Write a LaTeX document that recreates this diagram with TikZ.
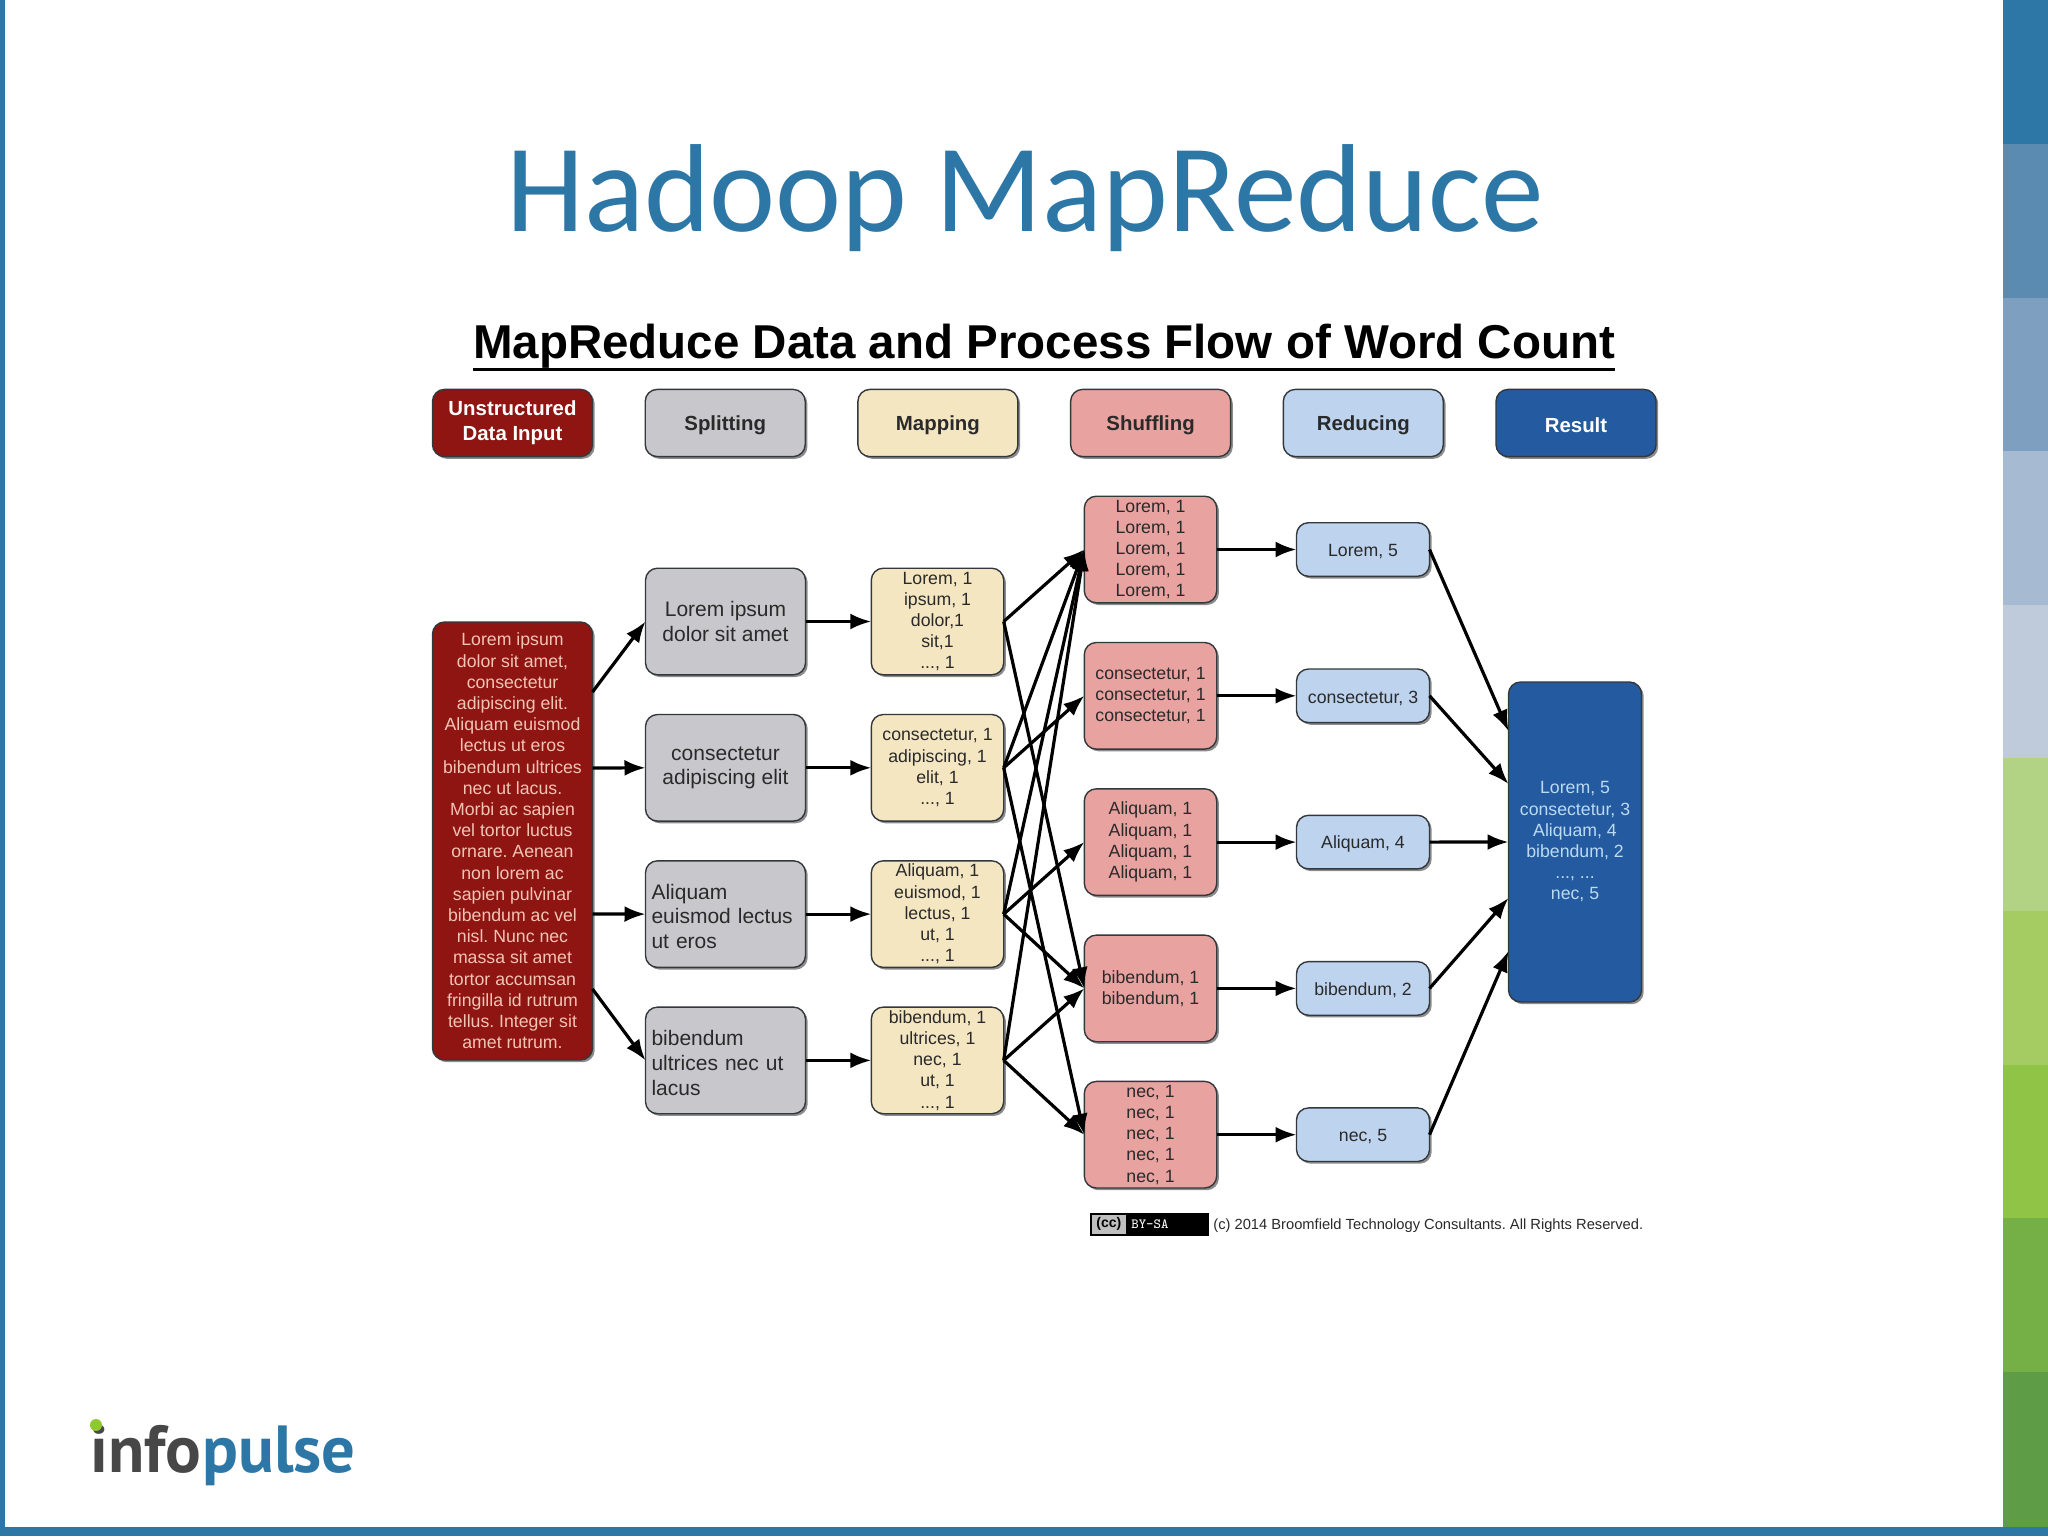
\documentclass[tikz,border=0pt]{standalone}
\usepackage{fontspec}
\setmainfont{Liberation Sans}
\newfontfamily\titlefont{Carlito}
\newfontfamily\logofont{PT Sans}
\usetikzlibrary{arrows.meta,shadows}

\definecolor{slide}{HTML}{2D77A6}
\definecolor{rust}{HTML}{8E1512}
\definecolor{rusttext}{HTML}{F2C4B4}
\definecolor{stone}{HTML}{C8C8CC}
\definecolor{cream}{HTML}{F5E6C2}
\definecolor{rose}{HTML}{E8A2A0}
\definecolor{sky}{HTML}{BDD3EE}
\definecolor{navy}{HTML}{235AA0}
\definecolor{navytext}{HTML}{BCDAF2}
\definecolor{edge}{HTML}{33383C}
\definecolor{inkdark}{HTML}{2A2A2A}
\definecolor{dotgreen}{HTML}{8FC92F}

\frenchspacing

\begin{document}
\begin{tikzpicture}[x=0.5pt, y=-0.5pt]
	\tikzstyle{Box} = [draw=edge, line width=0.7pt, rounded corners=6pt, inner xsep=0pt, inner ysep=-3pt, outer sep=0pt, align=center, text=inkdark, font=\fontsize{8.85}{10.6}\selectfont, execute at begin node={\rule{0pt}{0.95em}}, drop shadow={shadow xshift=1.1pt, shadow yshift=-1.1pt, fill=black, opacity=0.45}]
	\tikzstyle{Head} = [Box, minimum width=80pt, minimum height=33.6pt, node distance=106.35pt, font=\bfseries\fontsize{10.2}{12.6}\selectfont]
	\tikzstyle{Split} = [Box, fill=stone, minimum width=80pt, minimum height=53.3pt, node distance=73.15pt, font=\fontsize{10.5}{12.4}\selectfont]
	\tikzstyle{SplitLeft} = [Split, text width=74pt, align=left]
	\tikzstyle{Map} = [Box, fill=cream, minimum width=66.2pt, minimum height=53.3pt, node distance=73.15pt]
	\tikzstyle{Shuffle} = [Box, fill=rose, minimum width=66.2pt, minimum height=53.3pt, node distance=73.15pt]
	\tikzstyle{Reduce} = [Box, fill=sky, minimum width=66.5pt, minimum height=26.8pt, node distance=73.15pt]
	\tikzstyle{Flow} = [draw=black, line width=1.6pt, -{Latex[length=10.5pt, width=8pt]}]

	\useasboundingbox (0,0) rectangle (2048,1536);
	\fill[white] (0,0) rectangle (2048,1536);
	\fill[slide] (0,0) rectangle (5,1536);
	\fill[slide] (0,1527) rectangle (2048,1536);
	\fill[fill=slide] (2003,0) rectangle (2048,144);
	\fill[fill={rgb,255:red,91;green,139;blue,176}] (2003,144) rectangle (2048,298);
	\fill[fill={rgb,255:red,127;green,159;blue,192}] (2003,298) rectangle (2048,451);
	\fill[fill={rgb,255:red,166;green,187;blue,210}] (2003,451) rectangle (2048,605);
	\fill[fill={rgb,255:red,191;green,203;blue,218}] (2003,605) rectangle (2048,758);
	\fill[fill={rgb,255:red,178;green,211;blue,132}] (2003,758) rectangle (2048,911);
	\fill[fill={rgb,255:red,164;green,204;blue,98}] (2003,911) rectangle (2048,1065);
	\fill[fill={rgb,255:red,143;green,196;blue,70}] (2003,1065) rectangle (2048,1218);
	\fill[fill={rgb,255:red,116;green,176;blue,69}] (2003,1218) rectangle (2048,1372);
	\fill[fill={rgb,255:red,94;green,156;blue,70}] (2003,1372) rectangle (2048,1527);

	\node[name=title, text=slide, font=\titlefont\fontsize{62.6}{70}\selectfont] at (1025,198) {Hadoop MapReduce};
	\node[name=sub, inner sep=0pt, text=black, font=\bfseries\fontsize{23.75}{26}\selectfont] at (1044,346) {MapReduce Data and Process Flow of Word Count};
	\draw[line width=1.3pt] ([yshift=-0.5pt]sub.south west) -- ([yshift=-0.5pt]sub.south east);

	\node[name=hd0, Head, fill=rust, text=white] at (512.5,423) {Unstructured\\Data Input};
	\node[name=hd1, right of=hd0, Head, fill=stone]{Splitting};
	\node[name=hd2, right of=hd1, Head, fill=cream]{Mapping};
	\node[name=hd3, right of=hd2, Head, fill=rose]{Shuffling};
	\node[name=hd4, right of=hd3, Head, fill=sky]{Reducing};
	\node[name=hd5, right of=hd4, Head, fill=navy, text=white]{Result};

	\node[name=inp, Box, fill=rust, text=rusttext, minimum width=80pt, minimum height=219pt] at (512.5,841) {Lorem ipsum\\dolor sit amet,\\consectetur\\adipiscing elit.\\Aliquam euismod\\lectus ut eros\\bibendum ultrices\\nec ut lacus.\\Morbi ac sapien\\vel tortor luctus\\ornare. Aenean\\non lorem ac\\sapien pulvinar\\bibendum ac vel\\nisl. Nunc nec\\massa sit amet\\tortor accumsan\\fringilla id rutrum\\tellus. Integer sit\\amet rutrum.};

	\node[name=sp0, Split] at (725.5,621.5) {Lorem ipsum\\dolor sit amet};
	\node[name=sp1, below of=sp0, Split]{consectetur\\adipiscing elit};
	\node[name=sp2, below of=sp1, SplitLeft]{Aliquam\\euismod lectus\\ut eros};
	\node[name=sp3, below of=sp2, SplitLeft]{bibendum\\ultrices nec ut\\lacus};

	\node[name=mp0, Map] at (937.5,621.5) {Lorem, 1\\ipsum, 1\\dolor,1\\sit,1\\..., 1};
	\node[name=mp1, below of=mp0, Map]{consectetur, 1\\adipiscing, 1\\elit, 1\\..., 1};
	\node[name=mp2, below of=mp1, Map]{Aliquam, 1\\euismod, 1\\lectus, 1\\ut, 1\\..., 1};
	\node[name=mp3, below of=mp2, Map]{bibendum, 1\\ultrices, 1\\nec, 1\\ut, 1\\..., 1};

	\node[name=sh0, Shuffle] at (1150.5,549.5) {Lorem, 1\\Lorem, 1\\Lorem, 1\\Lorem, 1\\Lorem, 1};
	\node[name=sh1, below of=sh0, Shuffle]{consectetur, 1\\consectetur, 1\\consectetur, 1};
	\node[name=sh2, below of=sh1, Shuffle]{Aliquam, 1\\Aliquam, 1\\Aliquam, 1\\Aliquam, 1};
	\node[name=sh3, below of=sh2, Shuffle]{bibendum, 1\\bibendum, 1};
	\node[name=sh4, below of=sh3, Shuffle]{nec, 1\\nec, 1\\nec, 1\\nec, 1\\nec, 1};

	\node[name=re0, Reduce] at (1363,549.5) {Lorem, 5};
	\node[name=re1, below of=re0, Reduce]{consectetur, 3};
	\node[name=re2, below of=re1, Reduce]{Aliquam, 4};
	\node[name=re3, below of=re2, Reduce]{bibendum, 2};
	\node[name=re4, below of=re3, Reduce]{nec, 5};

	\node[name=res, Box, fill=navy, text=navytext, minimum width=66.5pt, minimum height=160pt] at (1575,842) {Lorem, 5\\consectetur, 3\\Aliquam, 4\\bibendum, 2\\..., ...\\nec, 5};

	\coordinate (inp0) at ([yshift=74.5pt]inp.east);
	\coordinate (inp1) at ([yshift=36.5pt]inp.east);
	\coordinate (inp2) at ([yshift=-36.5pt]inp.east);
	\coordinate (inp3) at ([yshift=-74pt]inp.east);
	\coordinate (res0) at ([yshift=55.5pt]res.west);
	\coordinate (res1) at ([yshift=29pt]res.west);
	\coordinate (res2) at (res.west);
	\coordinate (res3) at ([yshift=-28pt]res.west);
	\coordinate (res4) at ([yshift=-54.5pt]res.west);

	\draw[Flow] (inp0) -- (sp0.west);
	\draw[Flow] (inp1) -- (sp1.west);
	\draw[Flow] (inp2) -- (sp2.west);
	\draw[Flow] (inp3) -- (sp3.west);

	\draw[Flow] (sp0.east) -- (mp0.west);
	\draw[Flow] (sp1.east) -- (mp1.west);
	\draw[Flow] (sp2.east) -- (mp2.west);
	\draw[Flow] (sp3.east) -- (mp3.west);

	\draw[Flow] (mp0.east) -- (sh0.west);
	\draw[Flow] (mp0.east) -- (sh3.west);
	\draw[Flow] (mp1.east) -- (sh0.west);
	\draw[Flow] (mp1.east) -- (sh1.west);
	\draw[Flow] (mp1.east) -- (sh4.west);
	\draw[Flow] (mp2.east) -- (sh0.west);
	\draw[Flow] (mp2.east) -- (sh2.west);
	\draw[Flow] (mp2.east) -- (sh3.west);
	\draw[Flow] (mp3.east) -- (sh0.west);
	\draw[Flow] (mp3.east) -- (sh3.west);
	\draw[Flow] (mp3.east) -- (sh4.west);

	\draw[Flow] (sh0.east) -- (re0.west);
	\draw[Flow] (sh1.east) -- (re1.west);
	\draw[Flow] (sh2.east) -- (re2.west);
	\draw[Flow] (sh3.east) -- (re3.west);
	\draw[Flow] (sh4.east) -- (re4.west);

	\draw[Flow] (re0.east) -- (res0);
	\draw[Flow] (re1.east) -- (res1);
	\draw[Flow] (re2.east) -- (res2);
	\draw[Flow] (re3.east) -- (res3);
	\draw[Flow] (re4.east) -- (res4);

	\node[name=ccbox, fill=black, draw=black, minimum width=59pt, minimum height=11pt, inner sep=0pt] at (1149.5,1224) {};
	\node[name=ccleft, fill=black!25, anchor=west, minimum width=17pt, minimum height=9.5pt, inner sep=0pt, font=\bfseries\fontsize{7}{8}\selectfont] at ([xshift=0.7pt]ccbox.west) {(cc)};
	\node[name=ccby, right of=ccleft, node distance=20.5pt, text=white, inner sep=0pt, font=\ttfamily\fontsize{7}{8}\selectfont]{BY-SA};
	\node[name=copy, anchor=west, inner sep=0pt, text=inkdark, font=\fontsize{7.35}{9}\selectfont] at (1213,1226) {(c) 2014 Broomfield Technology Consultants. All Rights Reserved.};

	\node[name=logo0, anchor=base west, inner sep=0pt, text=black!72, font=\logofont\bfseries\fontsize{33.3}{40}\selectfont] at (90,1472) {info};
	\node[name=logo1, anchor=base west, inner sep=0pt, text=slide, font=\logofont\bfseries\fontsize{33.3}{40}\selectfont] at (logo0.base east) {pulse};
	\fill[dotgreen] (96,1425) circle (6);
\end{tikzpicture}
\end{document}
